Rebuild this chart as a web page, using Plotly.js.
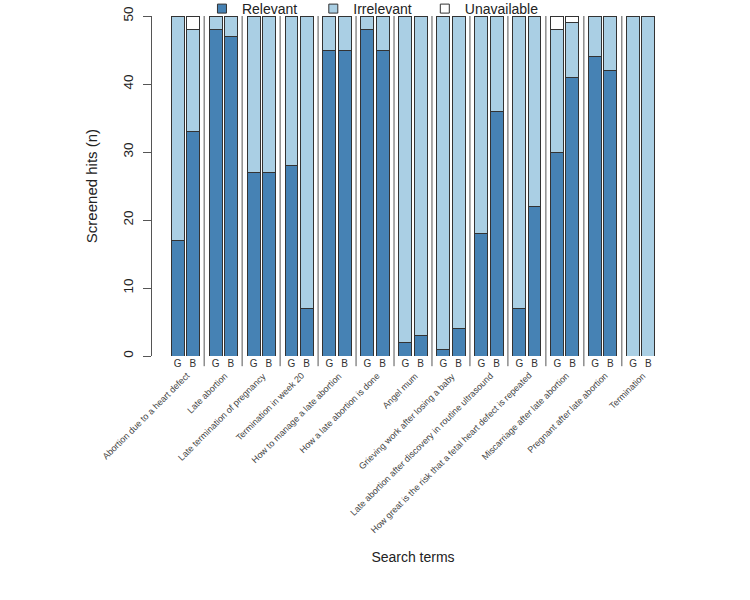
<!DOCTYPE html>
<html>
<head>
<meta charset="utf-8">
<script src="https://cdn.plot.ly/plotly-3.0.1.min.js"></script>
<style>html,body{margin:0;padding:0;background:#fff;}#chart{width:750px;height:600px;}</style>
</head>
<body>
<div id="chart"></div>
<script>
// ---- data ----
var terms = [
  "Abortion due to a heart defect",
  "Late abortion",
  "Late termination of pregnancy",
  "Termination in week 20",
  "How to manage a late abortion",
  "How a late abortion is done",
  "Angel mum",
  "Grieving work after losing a baby",
  "Late abortion after discovery in routine ultrasound",
  "How great is the risk that a fetal heart defect is repeated",
  "Miscarriage after late abortion",
  "Pregnant after late abortion",
  "Termination"
];
var engines = ["G", "B"];
var relevantG    = [17, 48, 27, 28, 45, 48,  2,  1, 18,  7, 30, 44,  0];
var irrelevantG  = [33,  2, 23, 22,  5,  2, 48, 49, 32, 43, 18,  6, 50];
var unavailableG = [ 0,  0,  0,  0,  0,  0,  0,  0,  0,  0,  2,  0,  0];
var relevantB    = [33, 47, 27,  7, 45, 45,  3,  4, 36, 22, 41, 42,  0];
var irrelevantB  = [15,  3, 23, 43,  5,  5, 47, 46, 14, 28,  8,  8, 50];
var unavailableB = [ 2,  0,  0,  0,  0,  0,  0,  0,  0,  0,  1,  0,  0];
var seriesNames = ["Relevant", "Irrelevant", "Unavailable"];
var yTicks = [0, 10, 20, 30, 40, 50];

// ---- build ----
var colors = ["#4682B4", "#AACFE4", "#FFFFFF"];
var edge = "#333333";
var OFF = 0.2, BW = 0.342;
var xs = [], ticktext = [];
terms.forEach(function (t, i) {
  xs.push(i - OFF); ticktext.push(engines[0]);
  xs.push(i + OFF); ticktext.push(engines[1]);
});
function interleave(a, b) {
  var out = [];
  for (var i = 0; i < a.length; i++) { out.push(a[i]); out.push(b[i]); }
  return out;
}
var seriesVals = [
  interleave(relevantG, relevantB),
  interleave(irrelevantG, irrelevantB),
  interleave(unavailableG, unavailableB)
];
var legendIds = ["legend", "legend2", "legend3"];
var traces = [];
seriesNames.forEach(function (name, k) {
  traces.push({
    type: "bar", x: xs, y: seriesVals[k], width: BW, name: name,
    marker: {color: colors[k], line: {color: edge, width: 1}},
    showlegend: false, hoverinfo: "skip"
  });
});
seriesNames.forEach(function (name, k) {
  traces.push({
    type: "scatter", mode: "markers", x: [null], y: [null], name: name,
    legend: legendIds[k],
    marker: {symbol: "square", size: 9, color: colors[k], line: {color: edge, width: 1}}
  });
});

var shapes = [];
for (var i = 0; i < terms.length - 1; i++) {
  shapes.push({type: "line", xref: "x", yref: "paper", x0: i + 0.5, x1: i + 0.5,
    y0: -0.03, y1: 1, line: {color: "#555555", width: 1}});
}
var annotations = terms.map(function (t, i) {
  return {text: t, x: i + 0.25, xref: "x", y: -0.035, yref: "paper",
    xanchor: "right", yanchor: "top", textangle: -45, showarrow: false,
    font: {size: 9, color: "#444444"}};
});

var legFont = {size: 14, color: "#222222", family: "Liberation Sans, Arial, sans-serif"};
function leg(x) {
  return {orientation: "h", x: x, xanchor: "left", y: 1.0206, yanchor: "middle",
    font: legFont, bgcolor: "rgba(0,0,0,0)", borderwidth: 0};
}

var layout = {
  width: 750, height: 600,
  margin: {l: 152, r: 75.6, t: 16, b: 244, pad: 0, autoexpand: false},
  paper_bgcolor: "#fff", plot_bgcolor: "#fff",
  font: {family: "Liberation Sans, Arial, sans-serif", color: "#222"},
  barmode: "stack", bargap: 0,
  xaxis: {range: [-0.874, 12.874], tickvals: xs, ticktext: ticktext, ticks: "",
    showline: false, showgrid: false, zeroline: false,
    tickfont: {size: 10, color: "#333"},
    title: {text: "Search terms", font: {size: 14, color: "#222"}, standoff: 184}},
  yaxis: {range: [0, 50], tickvals: yTicks, ticks: "outside", ticklen: 8,
    tickcolor: "#555", showline: true, linecolor: "#555", linewidth: 1,
    showgrid: false, zeroline: false, tickangle: -90, ticklabelstandoff: 5,
    tickfont: {size: 13.5, color: "#222"},
    title: {text: "Screened hits (n)", font: {size: 15, color: "#222"}, standoff: 19}},
  legend: leg(0.0957), legend2: leg(0.309), legend3: leg(0.5226),
  shapes: shapes, annotations: annotations
};
Plotly.newPlot("chart", traces, layout, {staticPlot: true});
</script>
</body>
</html>
